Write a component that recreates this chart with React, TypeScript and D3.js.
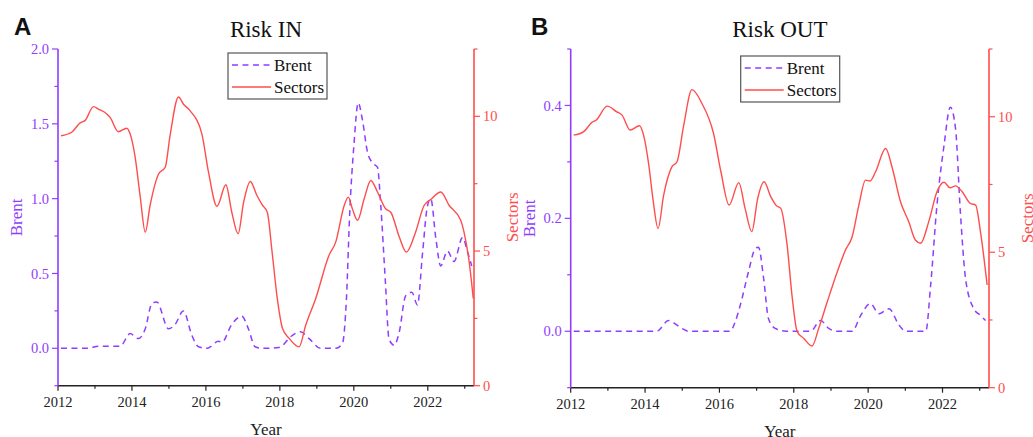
import React from "react";
import * as d3 from "d3";

// ---------- DATA ----------
const sectorsInYears = [2012.08, 2012.37, 2012.6, 2012.73, 2012.96, 2013.09, 2013.32, 2013.41, 2013.63, 2013.86, 2013.95, 2014.08, 2014.22, 2014.36, 2014.49, 2014.72, 2014.9, 2015.03, 2015.26, 2015.39, 2015.57, 2015.89, 2016.07, 2016.3, 2016.54, 2016.7, 2016.87, 2017.02, 2017.2, 2017.38, 2017.52, 2017.66, 2017.79, 2017.93, 2018.07, 2018.25, 2018.52, 2018.7, 2018.97, 2019.33, 2019.51, 2019.74, 2019.85, 2019.96, 2020.1, 2020.28, 2020.46, 2020.64, 2020.86, 2021.0, 2021.23, 2021.42, 2021.67, 2021.9, 2022.08, 2022.35, 2022.58, 2022.89, 2022.98, 2023.12, 2023.23];
const sectorsInValues = [9.28, 9.41, 9.76, 9.84, 10.36, 10.27, 10.09, 9.96, 9.43, 9.56, 9.35, 8.54, 7.06, 5.7, 6.69, 7.86, 8.11, 9.28, 10.72, 10.46, 10.21, 9.35, 7.93, 6.66, 7.46, 6.44, 5.64, 6.81, 7.58, 7.06, 6.72, 6.44, 4.96, 3.24, 2.13, 1.76, 1.44, 2.25, 3.24, 4.84, 5.33, 6.69, 7.0, 6.57, 6.14, 6.94, 7.62, 7.19, 6.57, 6.44, 5.52, 4.96, 5.7, 6.69, 6.91, 7.19, 6.69, 6.14, 5.7, 4.59, 3.24];

const brentInYears = [2012.08, 2012.8, 2013.09, 2013.68, 2013.95, 2014.17, 2014.36, 2014.54, 2014.67, 2014.99, 2015.17, 2015.39, 2015.62, 2015.8, 2016.03, 2016.34, 2016.43, 2016.7, 2016.97, 2017.15, 2017.33, 2017.52, 2017.97, 2018.34, 2018.56, 2018.79, 2019.1, 2019.51, 2019.69, 2019.8, 2019.89, 2020.0, 2020.12, 2020.23, 2020.37, 2020.5, 2020.64, 2020.73, 2020.85, 2020.95, 2021.09, 2021.23, 2021.4, 2021.57, 2021.72, 2021.86, 2021.99, 2022.08, 2022.22, 2022.35, 2022.53, 2022.71, 2022.94, 2023.08, 2023.19];
const brentInValues = [0.0, 0.0, 0.013, 0.013, 0.098, 0.065, 0.13, 0.3, 0.31, 0.13, 0.16, 0.25, 0.087, 0.01, 0.0, 0.047, 0.04, 0.16, 0.215, 0.13, 0.01, 0.0, 0.005, 0.087, 0.11, 0.065, 0.0, 0.0, 0.03, 0.33, 0.91, 1.35, 1.64, 1.53, 1.31, 1.24, 1.21, 0.95, 0.46, 0.065, 0.02, 0.11, 0.35, 0.375, 0.29, 0.64, 0.95, 1.0, 0.73, 0.55, 0.65, 0.58, 0.74, 0.64, 0.55];

const sectorsOutYears = [2012.08, 2012.35, 2012.57, 2012.69, 2012.98, 2013.24, 2013.38, 2013.6, 2013.85, 2013.96, 2014.1, 2014.21, 2014.35, 2014.5, 2014.72, 2014.86, 2015.04, 2015.26, 2015.53, 2015.84, 2016.04, 2016.26, 2016.52, 2016.69, 2016.87, 2017.03, 2017.2, 2017.38, 2017.53, 2017.65, 2017.82, 2017.96, 2018.09, 2018.27, 2018.49, 2018.67, 2018.9, 2019.17, 2019.39, 2019.57, 2019.75, 2019.93, 2020.05, 2020.2, 2020.47, 2020.65, 2020.87, 2021.09, 2021.27, 2021.41, 2021.63, 2021.85, 2022.04, 2022.2, 2022.35, 2022.53, 2022.75, 2022.89, 2023.02, 2023.2];
const sectorsOutValues = [9.32, 9.45, 9.79, 9.88, 10.39, 10.18, 10.06, 9.51, 9.67, 9.32, 8.22, 6.99, 5.88, 7.11, 8.15, 8.34, 9.69, 11.0, 10.49, 9.39, 7.97, 6.74, 7.57, 6.62, 5.76, 6.99, 7.6, 7.05, 6.72, 6.62, 5.27, 3.3, 2.07, 1.82, 1.54, 2.19, 3.17, 4.28, 5.08, 5.57, 6.74, 7.66, 7.63, 7.97, 8.83, 8.1, 6.86, 6.13, 5.45, 5.33, 6.13, 7.23, 7.58, 7.38, 7.45, 7.23, 6.8, 6.74, 5.76, 3.79];

const brentOutYears = [2012.08, 2014.32, 2014.63, 2014.99, 2015.17, 2016.29, 2016.42, 2016.56, 2016.78, 2016.96, 2017.05, 2017.19, 2017.32, 2017.5, 2017.8, 2018.45, 2018.72, 2018.94, 2019.17, 2019.57, 2019.8, 2020.06, 2020.29, 2020.56, 2020.83, 2021.01, 2021.55, 2021.68, 2021.85, 2022.04, 2022.21, 2022.35, 2022.48, 2022.62, 2022.84, 2023.02, 2023.16];
const brentOutValues = [0, 0, 0.019, 0.005, 0, 0, 0.016, 0.046, 0.105, 0.146, 0.149, 0.093, 0.022, 0.005, 0, 0, 0.019, 0.005, 0, 0, 0.028, 0.049, 0.031, 0.04, 0.011, 0, 0, 0.081, 0.223, 0.329, 0.397, 0.359, 0.211, 0.093, 0.04, 0.028, 0.019];

const xTickYears = [2012, 2014, 2016, 2018, 2020, 2022];
const xMinorYears = [2013, 2015, 2017, 2019, 2021, 2023];
const sectorsTicks = [0, 5, 10];
const sectorsMinor = [2.5, 7.5, 12.5];
const brentInTicks = [0, 0.5, 1.0, 1.5, 2.0];
const brentInMinor = [-0.25, 0.25, 0.75, 1.25, 1.75];
const brentOutTicks = [0, 0.2, 0.4];
const brentOutMinor = [-0.1, 0.1, 0.3, 0.5];
const legendLabels = ["Brent", "Sectors"];

// ---------- STYLE ----------
const PURPLE = "#8f3dff";
const RED = "#ff4d4d";
const SERIF = "'Liberation Serif', 'Times New Roman', serif";
const SANS = "'Liberation Sans', Arial, sans-serif";

type PanelProps = {
  letter: string;
  title: string;
  left: number;
  right: number;
  top: number;
  bottom: number;
  brentDomain: [number, number];
  brentTicks: number[];
  brentMinor: number[];
  brentFmt: (v: number) => string;
  sYears: number[];
  sVals: number[];
  bYears: number[];
  bVals: number[];
  legendX: number;
  legendY: number;
  letterX: number;
};

function Panel(p: PanelProps) {
  const x = d3.scaleLinear().domain([2012, 2023.25]).range([p.left, p.right]);
  const yB = d3.scaleLinear().domain(p.brentDomain).range([p.bottom, p.top]);
  const yS = d3.scaleLinear().domain([0, 12.5]).range([p.bottom, p.top]);

  const sData = p.sYears.map((yr, i) => [yr, p.sVals[i]] as [number, number]);
  const bData = p.bYears.map((yr, i) => [yr, p.bVals[i]] as [number, number]);

  const sLine = d3
    .line<[number, number]>()
    .x((d) => x(d[0]))
    .y((d) => yS(d[1]))
    .curve(d3.curveMonotoneX);
  const bLine = d3
    .line<[number, number]>()
    .x((d) => x(d[0]))
    .y((d) => yB(d[1]))
    .curve(d3.curveMonotoneX);

  const midY = (p.top + p.bottom) / 2;
  const midX = (p.left + p.right) / 2;
  const lw = 99;
  const lh = 46;

  return (
    <g>
      <text x={p.letterX} y={35} fontFamily={SANS} fontWeight="bold" fontSize={24} fill="#111">
        {p.letter}
      </text>
      <text x={midX} y={36.5} textAnchor="middle" fontFamily={SERIF} fontSize={23} fill="#111">
        {p.title}
      </text>

      {/* data */}
      <path d={bLine(bData) || ""} fill="none" stroke={PURPLE} strokeWidth={1.5} strokeDasharray="6,4.5" />
      <path d={sLine(sData) || ""} fill="none" stroke={RED} strokeWidth={1.4} />

      {/* bottom axis */}
      <line x1={p.left} x2={p.right} y1={p.bottom} y2={p.bottom} stroke="#222" strokeWidth={1.5} />
      {xTickYears.map((t) => (
        <g key={"xt" + t}>
          <line x1={x(t)} x2={x(t)} y1={p.bottom} y2={p.bottom + 5} stroke="#222" strokeWidth={1.2} />
          <text x={x(t)} y={p.bottom + 21} textAnchor="middle" fontFamily={SERIF} fontSize={14.5} fill="#222">
            {t}
          </text>
        </g>
      ))}
      {xMinorYears.map((t) => (
        <line key={"xm" + t} x1={x(t)} x2={x(t)} y1={p.bottom} y2={p.bottom + 3} stroke="#222" strokeWidth={1.2} />
      ))}
      <text x={midX} y={p.bottom + 49} textAnchor="middle" fontFamily={SERIF} fontSize={17} fill="#222">
        Year
      </text>

      {/* left axis */}
      <line x1={p.left} x2={p.left} y1={p.top} y2={p.bottom} stroke={PURPLE} strokeWidth={1.6} />
      {p.brentTicks.map((t) => (
        <g key={"yl" + t}>
          <line x1={p.left - 6} x2={p.left} y1={yB(t)} y2={yB(t)} stroke={PURPLE} strokeWidth={1.2} />
          <text x={p.left - 9} y={yB(t)} dy="0.35em" textAnchor="end" fontFamily={SERIF} fontSize={14.5} fill={PURPLE}>
            {p.brentFmt(t)}
          </text>
        </g>
      ))}
      {p.brentMinor.map((t) => (
        <line key={"ylm" + t} x1={p.left - 3.5} x2={p.left} y1={yB(t)} y2={yB(t)} stroke={PURPLE} strokeWidth={1.2} />
      ))}
      <text
        transform={`translate(${p.left - 36},${midY}) rotate(-90)`}
        textAnchor="middle"
        fontFamily={SERIF}
        fontSize={17}
        fill={PURPLE}
      >
        Brent
      </text>

      {/* right axis */}
      <line x1={p.right} x2={p.right} y1={p.top} y2={p.bottom} stroke={RED} strokeWidth={1.6} />
      {sectorsTicks.map((t) => (
        <g key={"yr" + t}>
          <line x1={p.right} x2={p.right + 6} y1={yS(t)} y2={yS(t)} stroke={RED} strokeWidth={1.2} />
          <text x={p.right + 9} y={yS(t)} dy="0.35em" textAnchor="start" fontFamily={SERIF} fontSize={14.5} fill={RED}>
            {t}
          </text>
        </g>
      ))}
      {sectorsMinor.map((t) => (
        <line key={"yrm" + t} x1={p.right} x2={p.right + 3.5} y1={yS(t)} y2={yS(t)} stroke={RED} strokeWidth={1.2} />
      ))}
      <text
        transform={`translate(${p.right + 44},${midY}) rotate(-90)`}
        textAnchor="middle"
        fontFamily={SERIF}
        fontSize={17}
        fill={RED}
      >
        Sectors
      </text>

      {/* legend */}
      <rect x={p.legendX} y={p.legendY} width={lw} height={lh} fill="#fff" stroke="#555" strokeWidth={1.2} />
      {legendLabels.map((lab, i) => {
        const cy = p.legendY + 12 + i * 22;
        return (
          <g key={lab}>
            <line
              x1={p.legendX + 4}
              x2={p.legendX + 43}
              y1={cy}
              y2={cy}
              stroke={i === 0 ? PURPLE : RED}
              strokeWidth={1.5}
              strokeDasharray={i === 0 ? "6,4.5" : undefined}
            />
            <text x={p.legendX + 46} y={cy} dy="0.33em" fontFamily={SERIF} fontSize={17} fill="#111">
              {lab}
            </text>
          </g>
        );
      })}
    </g>
  );
}

export default function App() {
  return (
    <svg
      width={1033}
      height={437}
      viewBox="0 0 1033 437"
      style={{ position: "absolute", left: 0, top: 0, background: "#fff" }}
    >
      <rect width={1033} height={437} fill="#fff" />
      <Panel
        letter="A"
        title="Risk IN"
        left={58}
        right={474}
        top={49}
        bottom={385.7}
        brentDomain={[-0.25, 2.0]}
        brentTicks={brentInTicks}
        brentMinor={brentInMinor}
        brentFmt={d3.format(".1f")}
        sYears={sectorsInYears}
        sVals={sectorsInValues}
        bYears={brentInYears}
        bVals={brentInValues}
        legendX={228}
        legendY={53}
        letterX={14}
      />
      <Panel
        letter="B"
        title="Risk OUT"
        left={570.7}
        right={989}
        top={49}
        bottom={387.7}
        brentDomain={[-0.1, 0.5]}
        brentTicks={brentOutTicks}
        brentMinor={brentOutMinor}
        brentFmt={d3.format(".1f")}
        sYears={sectorsOutYears}
        sVals={sectorsOutValues}
        bYears={brentOutYears}
        bVals={brentOutValues}
        legendX={740.7}
        legendY={56}
        letterX={531}
      />
    </svg>
  );
}
